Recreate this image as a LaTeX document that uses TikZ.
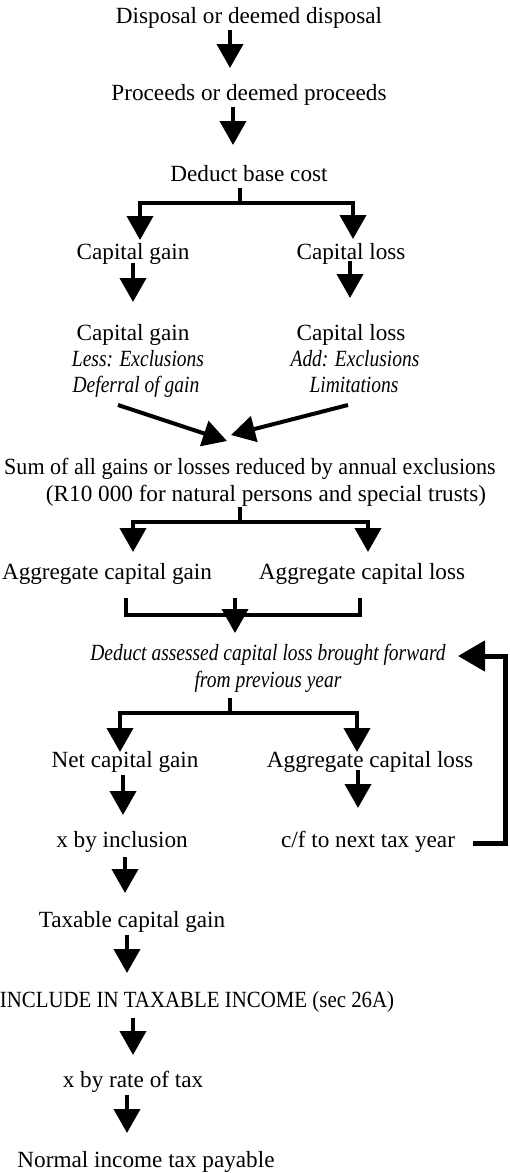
\documentclass[tikz,border=0pt]{standalone}
\usepackage{fontspec}
\setmainfont{Liberation Serif}[ItalicFeatures={FakeStretch=0.84}]
\newfontfamily\sumfont{Liberation Serif}[FakeStretch=0.95]
\newfontfamily\capsfont{Liberation Serif}[FakeStretch=0.90]
\usetikzlibrary{arrows.meta}
\begin{document}
\begin{tikzpicture}[x=1pt,y=-1pt,
 txt/.style={anchor=base,inner sep=0pt,font=\fontsize{23.2}{26}\selectfont},
 itx/.style={anchor=base,inner sep=0pt,font=\fontsize{23.2}{26}\selectfont\itshape},
 arr/.style={line width=4pt,-{Triangle[width=26pt,length=24pt]}},
 ln/.style={line width=4pt},
 fb/.style={line width=5pt,-{Triangle[width=30pt,length=27pt]}}]
\useasboundingbox (0,0) rectangle (509,1173);
% texts
\node[txt] (t1) at (249,23) {Disposal or deemed disposal};
\node[txt] (t2) at (249,100) {Proceeds or deemed proceeds};
\node[txt] (t3) at (249,181) {Deduct base cost};
\node[txt] (g1) at (133,259) {Capital gain};
\node[txt] (l1) at (351,259) {Capital loss};
\node[txt] (g2a) at (133,340) {Capital gain};
\node[itx] (g2b) at (138,366) {Less: Exclusions};
\node[itx] (g2c) at (136,392) {Deferral of gain};
\node[txt] (l2a) at (351,340) {Capital loss};
\node[itx] (l2b) at (355,366) {Add: Exclusions};
\node[itx] (l2c) at (354,392) {Limitations};
\node[txt,font=\fontsize{23.2}{26}\sumfont] (s1) at (250,474) {Sum of all gains or losses reduced by annual exclusions};
\node[txt] (s2) at (266,501) {(R10 000 for natural persons and special trusts)};
\node[txt] (ag) at (107,579) {Aggregate capital gain};
\node[txt] (al) at (362,579) {Aggregate capital loss};
\node[itx] (d1) at (268,660) {Deduct assessed capital loss brought forward};
\node[itx] (d2) at (268,687) {from previous year};
\node[txt] (ng) at (125,767) {Net capital gain};
\node[txt] (al2) at (370,767) {Aggregate capital loss};
\node[txt] (xi) at (122,847) {x by inclusion};
\node[txt] (cf) at (368,847) {c/f to next tax year};
\node[txt] (tg) at (132,927) {Taxable capital gain};
\node[txt,font=\fontsize{23.2}{26}\capsfont] (inc) at (197,1007) {INCLUDE IN TAXABLE INCOME (sec 26A)};
\node[txt] (xr) at (133,1087) {x by rate of tax};
\node[txt] (nt) at (146,1167) {Normal income tax payable};
% connectors
\draw[arr] (230,30) -- (230,68);
\draw[arr] (233,107) -- (233,145);
\draw[arr] (240,188) -- (240,203) -| (140,240);
\draw[arr] (240,203) -| (353,239);
\draw[arr] (133,263) -- (133,302);
\draw[arr] (350,261) -- (350,298);
\draw[arr] (118,405) -- (227,441);
\draw[arr] (348,405) -- (231,435);
\draw[arr] (240,507) -- (240,522) -| (133,552);
\draw[arr] (240,522) -| (368,552);
\draw[ln] (126,598) |- (360,615) -- (360,598);
\draw[arr] (235,598) -- (235,633);
\draw[arr] (230,698) -- (230,713) -| (120,752);
\draw[arr] (230,713) -| (357,752);
\draw[arr] (123,775) -- (123,815);
\draw[arr] (358,770) -- (358,808);
\draw[fb] (473,843) -- (505,843) -- (505,656) -- (458,656);
\draw[arr] (125,857) -- (125,893);
\draw[arr] (127,935) -- (127,973);
\draw[arr] (133,1018) -- (133,1055);
\draw[arr] (127,1095) -- (127,1133);
\end{tikzpicture}
\end{document}
